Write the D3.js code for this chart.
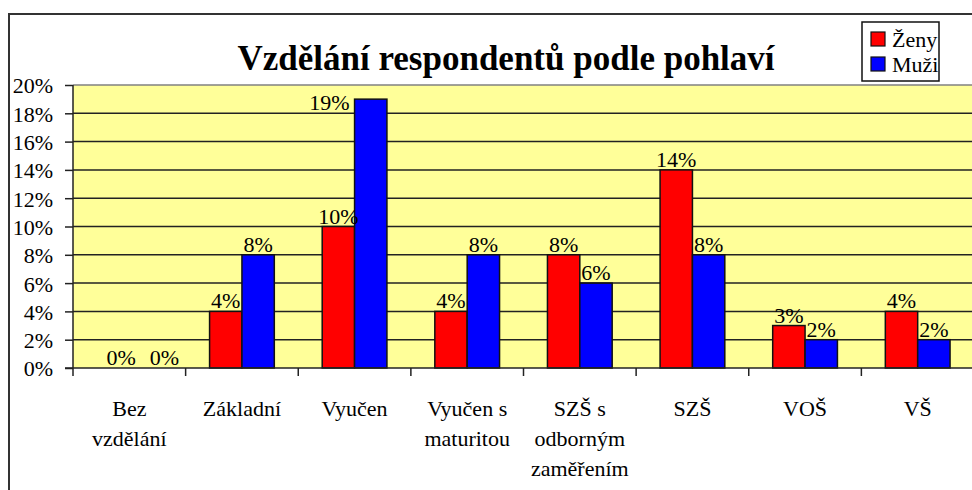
<!DOCTYPE html>
<html>
<head>
<meta charset="utf-8">
<script src="https://cdn.jsdelivr.net/npm/d3@7"></script>
</head>
<body style="margin:0">
<svg id="chart" width="972" height="490" font-family="Liberation Serif"></svg>
<script>
const categories = [
  ['Bez', 'vzdělání'],
  ['Základní'],
  ['Vyučen'],
  ['Vyučen s', 'maturitou'],
  ['SZŠ s', 'odborným', 'zaměřením'],
  ['SZŠ'],
  ['VOŠ'],
  ['VŠ']
]
const zeny = [0, 4, 10, 4, 8, 14, 3, 4]
const muzi = [0, 8, 19, 8, 6, 8, 2, 2]
const yTicks = [0, 2, 4, 6, 8, 10, 12, 14, 16, 18, 20]
const seriesNames = ['Ženy', 'Muži']
const seriesColors = ['#ff0000', '#0000ff']
const title = 'Vzdělání respondentů podle pohlaví'

const svg = d3.select('#chart')
const plot = {left: 73, top: 85, right: 974, bottom: 368}

// outer chart frame (runs off the right/bottom edge like the original)
svg.append('rect')
  .attr('x', 9).attr('y', 14).attr('width', 1000).attr('height', 600)
  .attr('fill', '#fff').attr('stroke', '#333').attr('stroke-width', 2)

const keys = categories.map((c, i) => i)
const x = d3.scaleBand().domain(keys).range([plot.left, plot.right])
const xInner = d3.scaleBand().domain([0, 1]).range([0, x.bandwidth()]).paddingOuter(0.74).paddingInner(0)
const y = d3.scaleLinear().domain([0, 20]).range([plot.bottom, plot.top])

// plot area
svg.append('rect')
  .attr('x', plot.left).attr('y', plot.top)
  .attr('width', plot.right - plot.left).attr('height', plot.bottom - plot.top)
  .attr('fill', '#ffff99')

// gridlines
svg.append('g').selectAll('line')
  .data(yTicks.filter(t => t > 0))
  .join('line')
  .attr('x1', plot.left).attr('x2', plot.right)
  .attr('y1', d => y(d)).attr('y2', d => y(d))
  .attr('stroke', d => d === 20 ? '#808080' : '#222')
  .attr('stroke-width', 1.5)

// bars
const data = []
keys.forEach(i => {
  data.push({cat: i, s: 0, v: zeny[i]})
  data.push({cat: i, s: 1, v: muzi[i]})
})
svg.append('g').selectAll('rect')
  .data(data)
  .join('rect')
  .attr('x', d => x(d.cat) + xInner(d.s))
  .attr('width', xInner.bandwidth())
  .attr('y', d => y(d.v))
  .attr('height', d => y(0) - y(d.v))
  .attr('fill', d => seriesColors[d.s])
  .attr('stroke', d => d.v > 0 ? '#111' : 'none')
  .attr('stroke-width', 1.5)

// value labels (the tallest one sits beside its bar, zero labels spread apart, as in Excel)
svg.append('g').selectAll('text')
  .data(data)
  .join('text')
  .attr('x', d => d.v >= 19 ? x(d.cat) + xInner(d.s) - 5 : x(d.cat) + xInner(d.s) + xInner.bandwidth() / 2)
  .attr('dx', d => d.v === 0 ? 8 + d.s * 11 : 0)
  .attr('y', d => d.v >= 19 ? y(d.v) + 11 : y(d.v) - 3)
  .attr('text-anchor', d => d.v >= 19 ? 'end' : 'middle')
  .attr('font-size', 22)
  .text(d => d.v + '%')

// y axis
const yAxis = d3.axisLeft(y).tickValues(yTicks).tickSize(8).tickPadding(12).tickFormat(d => d + '%')
const yg = svg.append('g').attr('transform', `translate(${plot.left},0)`).call(yAxis)
yg.attr('font-family', 'Liberation Serif').attr('font-size', 22)
yg.select('.domain').remove()
yg.selectAll('.tick line').attr('stroke', '#222').attr('stroke-width', 1.5)
yg.selectAll('.tick text').attr('fill', '#000').attr('dy', '0.36em')
svg.append('line')
  .attr('x1', plot.left).attr('x2', plot.left)
  .attr('y1', plot.top).attr('y2', plot.bottom + 8)
  .attr('stroke', '#222').attr('stroke-width', 1.5)

// x axis: baseline and category boundary ticks
svg.append('line')
  .attr('x1', plot.left - 8).attr('x2', plot.right)
  .attr('y1', plot.bottom).attr('y2', plot.bottom)
  .attr('stroke', '#222').attr('stroke-width', 1.5)
svg.append('g').selectAll('line')
  .data(keys.slice(1))
  .join('line')
  .attr('x1', d => x(d)).attr('x2', d => x(d))
  .attr('y1', plot.bottom).attr('y2', plot.bottom + 8)
  .attr('stroke', '#222').attr('stroke-width', 1.5)

// category labels
const xl = svg.append('g').selectAll('text')
  .data(keys)
  .join('text')
  .attr('x', d => x(d) + x.bandwidth() / 2)
  .attr('y', 416)
  .attr('text-anchor', 'middle')
  .attr('font-size', 22)
xl.selectAll('tspan')
  .data(d => categories[d].map(line => ({line, cx: x(d) + x.bandwidth() / 2})))
  .join('tspan')
  .attr('x', d => d.cx)
  .attr('dy', (d, i) => i === 0 ? 0 : 30)
  .text(d => d.line)

// title
svg.append('text')
  .attr('x', 506).attr('y', 70)
  .attr('text-anchor', 'middle')
  .attr('font-size', 35)
  .attr('font-weight', 'bold')
  .text(title)

// legend
const legend = svg.append('g')
legend.append('rect')
  .attr('x', 862).attr('y', 22).attr('width', 77).attr('height', 59)
  .attr('fill', '#fff').attr('stroke', '#111').attr('stroke-width', 1.5)
const li = legend.selectAll('g.item')
  .data(seriesNames)
  .join('g')
  .attr('class', 'item')
  .attr('transform', (d, i) => `translate(871,${32 + i * 25})`)
li.append('rect')
  .attr('width', 14).attr('height', 14)
  .attr('fill', (d, i) => seriesColors[i])
  .attr('stroke', '#111').attr('stroke-width', 1.2)
li.append('text')
  .attr('x', 21).attr('y', 15)
  .attr('font-size', 22)
  .text(d => d)
</script>
</body>
</html>
